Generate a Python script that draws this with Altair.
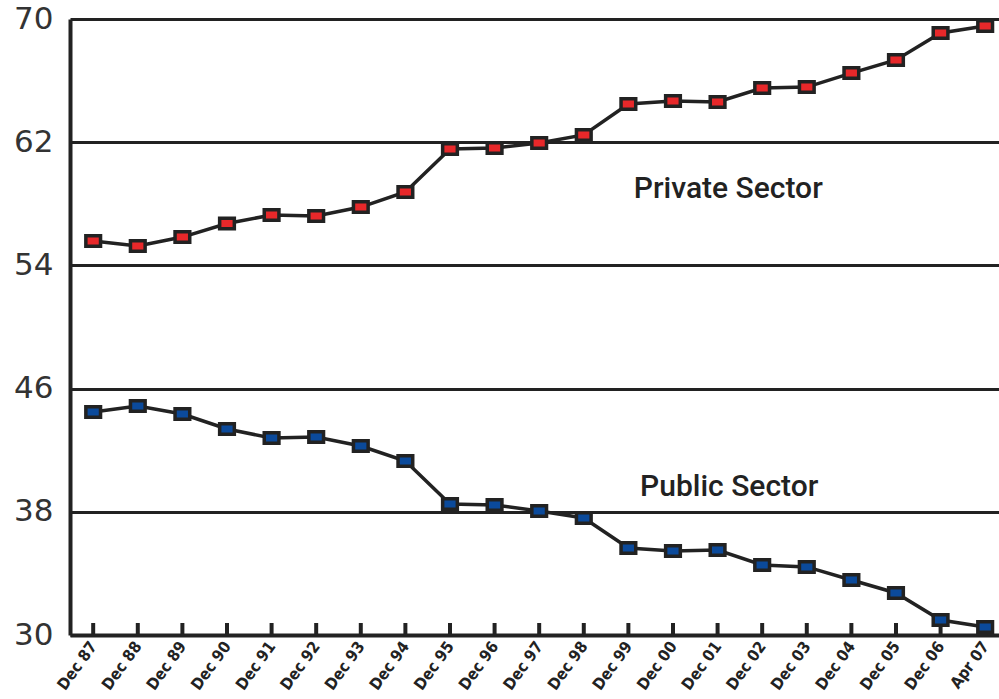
import json
import altair as alt
import pandas as pd

labels = ["Dec 87", "Dec 88", "Dec 89", "Dec 90", "Dec 91", "Dec 92", "Dec 93",
          "Dec 94", "Dec 95", "Dec 96", "Dec 97", "Dec 98", "Dec 99", "Dec 00",
          "Dec 01", "Dec 02", "Dec 03", "Dec 04", "Dec 05", "Dec 06", "Apr 07"]
private = [55.58, 55.26, 55.84, 56.72, 57.27, 57.21, 57.79, 58.77, 61.56, 61.62,
           61.95, 62.47, 64.48, 64.68, 64.61, 65.52, 65.58, 66.49, 67.34, 69.09, 69.55]
public = [44.48, 44.87, 44.35, 43.38, 42.79, 42.86, 42.27, 41.30, 38.51, 38.44,
          38.05, 37.60, 35.65, 35.45, 35.52, 34.55, 34.42, 33.57, 32.73, 30.97, 30.52]
y_ticks = [30, 38, 46, 54, 62, 70]
sectors = ["Private Sector", "Public Sector"]
ann_text = ["Private Sector", "Public Sector"]
ann_x = [14.24, 14.26]
ann_y = [58.96, 39.6]

rows = []
for i, lab in enumerate(labels):
    rows.append({"idx": i, "label": lab, "sector": sectors[0], "value": private[i]})
    rows.append({"idx": i, "label": lab, "sector": sectors[1], "value": public[i]})
df = pd.DataFrame(rows)
ticks_df = pd.DataFrame({"idx": list(range(len(labels))), "label": labels})
ann_df = pd.DataFrame({"text": ann_text, "idx": ann_x, "value": ann_y})

COND = "DejaVu Sans Condensed, Roboto, sans-serif"

W, H = 929, 616
xscale = alt.Scale(domain=[-0.52, 20.31], nice=False, zero=False)
yscale = alt.Scale(domain=[30, 70], nice=False, zero=False)

xaxis = alt.Axis(values=list(range(len(labels))),
                 labelExpr=json.dumps(labels) + "[datum.value]",
                 labelAngle=-54, labelAlign="right", labelBaseline="middle",
                 labelFont=COND, labelFontWeight="bold",
                 labelFontSize=16, labelColor="#222222", labelPadding=8,
                 labelOverlap=False, ticks=False, grid=False,
                 domainColor="#222222", domainWidth=4, title=None)
yaxis = alt.Axis(values=y_ticks, grid=True, gridColor="#222222", gridWidth=3,
                 ticks=False, domainColor="#222222", domainWidth=4,
                 labelFont="DejaVu Sans", labelFontSize=31, labelColor="#333333",
                 labelPadding=17, title=None)

X = alt.X("idx:Q", scale=xscale, axis=xaxis)
Y = alt.Y("value:Q", scale=yscale, axis=yaxis)

ticks = alt.Chart(ticks_df).mark_rule(color="#222222", strokeWidth=4).encode(
    x=X, y=alt.value(H - 12), y2=alt.value(H))

lines = alt.Chart(df).mark_line(color="#222222", strokeWidth=3.5).encode(
    x=X, y=Y, detail="sector:N")

points = alt.Chart(df).mark_point(
    shape="M-1.4,-1H1.4V1H-1.4Z", filled=True, size=110, opacity=1,
    stroke="#222222", strokeWidth=3.5).encode(
    x=X, y=Y,
    fill=alt.Fill("sector:N", scale=alt.Scale(domain=sectors, range=["#e8282a", "#0b4a9b"]),
                  legend=None))

texts = alt.Chart(ann_df).mark_text(font="Roboto", fontWeight=500, fontSize=30,
                                    color="#222222").encode(x=X, y=Y, text="text:N")

chart = alt.layer(ticks, lines, points, texts).properties(
    width=W, height=H, autosize="none",
    padding={"left": 70, "top": 19, "right": 0, "bottom": 64},
    background="white",
).configure_view(stroke=None)

chart.save("out.html", embed_options={"renderer": "svg", "actions": False})
